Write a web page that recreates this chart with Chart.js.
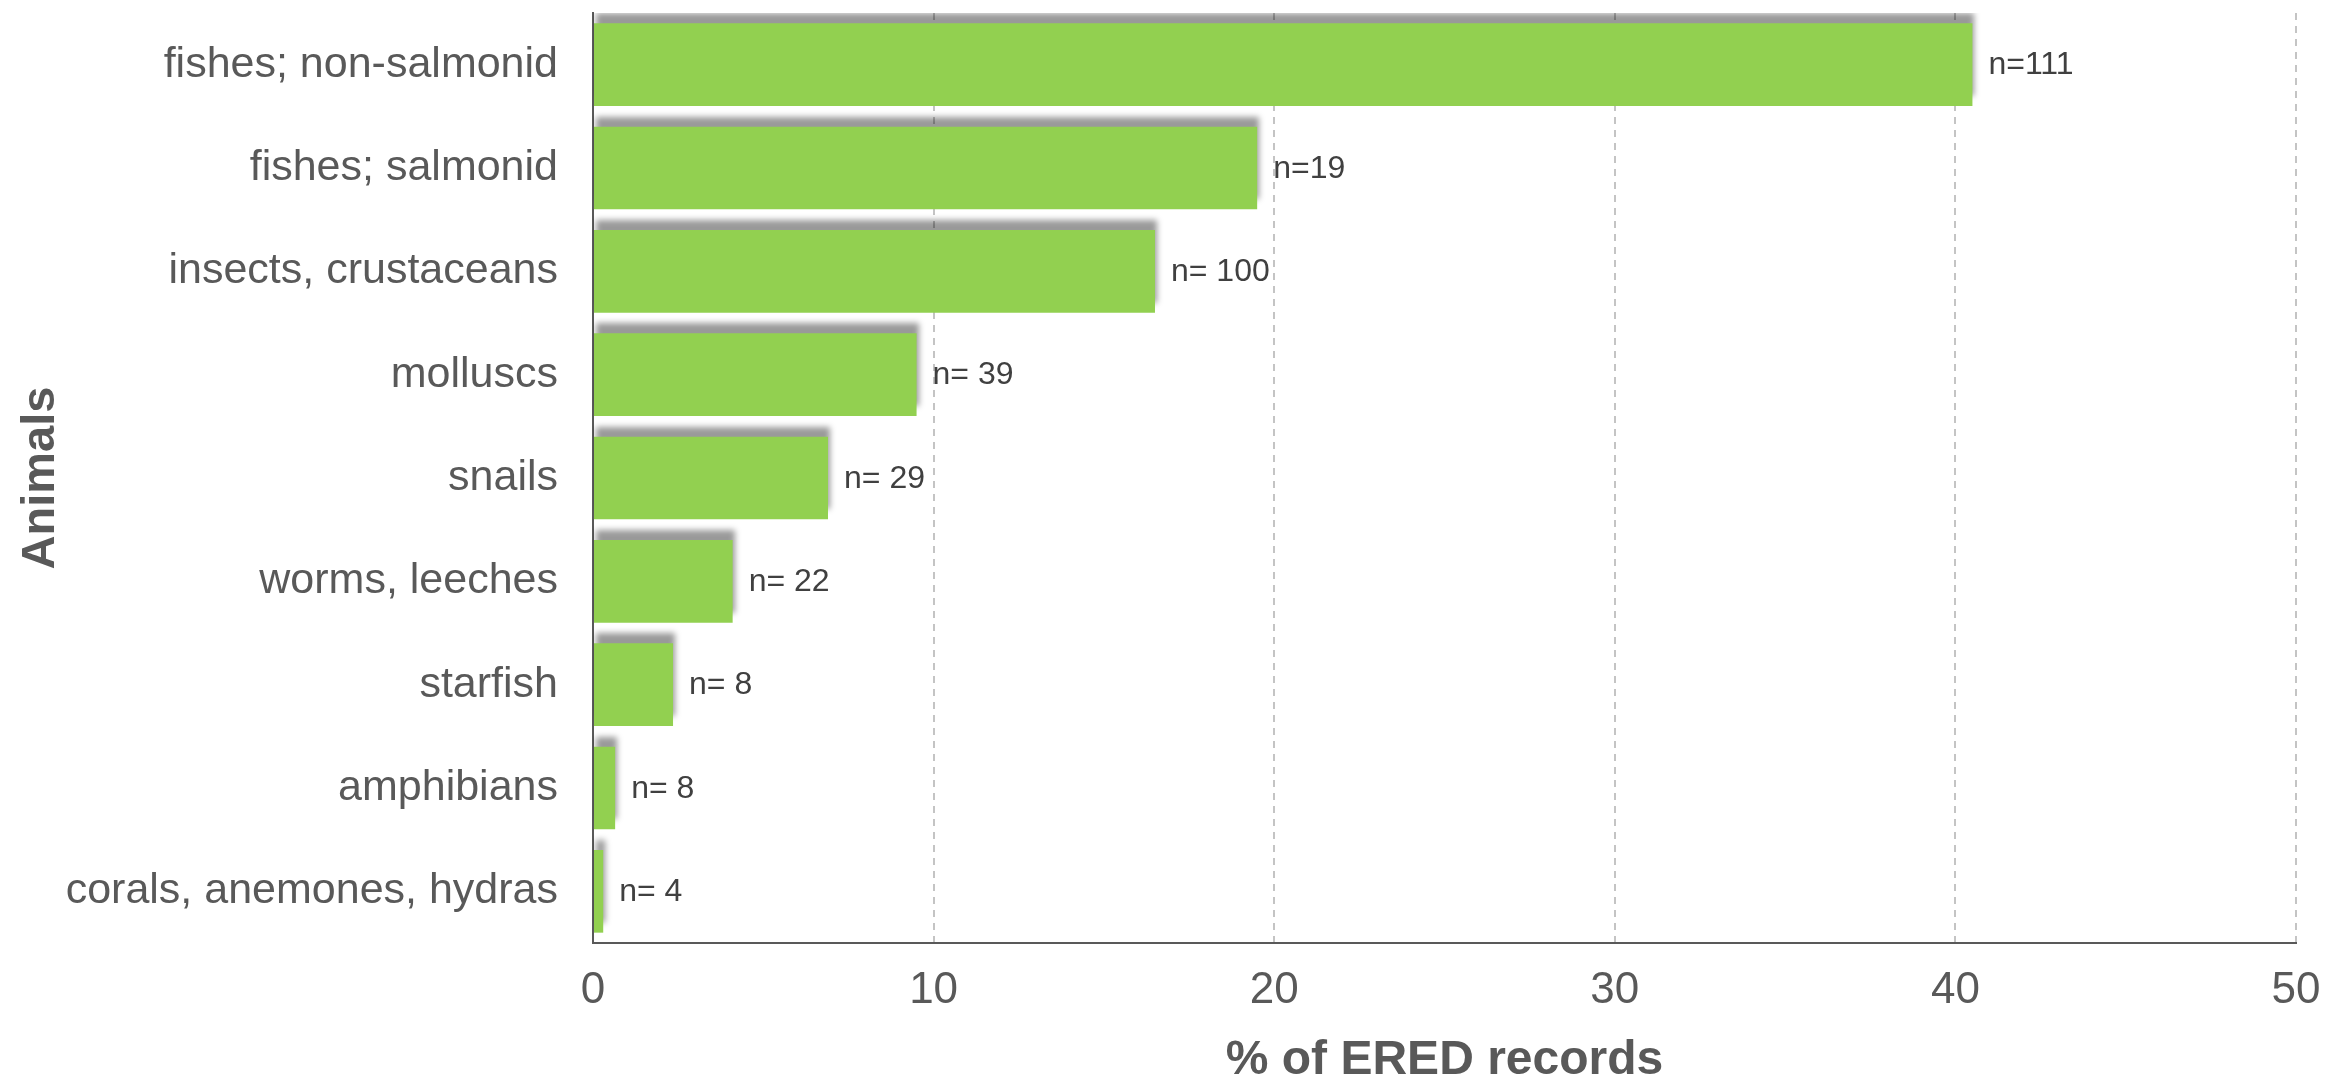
<!DOCTYPE html>
<html>
<head>
<meta charset="utf-8">
<title>Animals - % of ERED records</title>
<script src="https://cdn.jsdelivr.net/npm/chart.js@4/dist/chart.umd.min.js"></script>
<style>
    html, body { margin: 0; padding: 0; background: #ffffff; }
    #animalChart { display: block; }
</style>
</head>
<body>
<canvas id="animalChart" width="2326" height="1076"></canvas>
<script>
const categories = [
    'fishes; non-salmonid',
    'fishes; salmonid',
    'insects, crustaceans',
    'molluscs',
    'snails',
    'worms, leeches',
    'starfish',
    'amphibians',
    'corals, anemones, hydras'
];
// share of records per group (%)
const percentages = [40.5, 19.5, 16.5, 9.5, 6.9, 4.1, 2.35, 0.65, 0.3];
// sample counts printed next to each bar
const sampleLabels = ['n=111', 'n=19', 'n= 100', 'n= 39', 'n= 29', 'n= 22', 'n= 8', 'n= 8', 'n= 4'];
const xTicks = [0, 10, 20, 30, 40, 50];

const FONT = '"Liberation Sans", Arial, Helvetica, sans-serif';
const GREY = '#595959';

// keep the plot box where the layout padding puts it (no extra room for edge labels)
function noEdgePadding(scale) {
    scale.paddingTop = 0;
    scale.paddingBottom = 0;
    scale.paddingLeft = 0;
    scale.paddingRight = 0;
}

// soft shadow above each bar + the "n=" labels
const barDecor = {
    id: 'barDecor',
    beforeDatasetsDraw(chart) {
        const ctx = chart.ctx;
        ctx.save();
        ctx.shadowColor = 'rgba(0, 0, 0, 0.4)';
        ctx.shadowBlur = 6;
        ctx.shadowOffsetX = 2;
        ctx.shadowOffsetY = -10;
    },
    afterDatasetsDraw(chart) {
        const ctx = chart.ctx;
        ctx.restore();
        const meta = chart.getDatasetMeta(0);
        ctx.save();
        ctx.font = '32px ' + FONT;
        ctx.fillStyle = '#404040';
        ctx.textAlign = 'left';
        ctx.textBaseline = 'middle';
        meta.data.forEach((bar, i) => {
            ctx.fillText(sampleLabels[i], bar.x + 16, bar.y + 1);
        });
        ctx.restore();
    }
};

const ctx = document.getElementById('animalChart').getContext('2d');

new Chart(ctx, {
    type: 'bar',
    data: {
        labels: categories,
        datasets: [{
            data: percentages,
            backgroundColor: '#92D050',
            borderWidth: 0,
            barPercentage: 0.8,
            categoryPercentage: 1.0
        }]
    },
    options: {
        indexAxis: 'y',
        responsive: false,
        animation: false,
        devicePixelRatio: 1,
        layout: {
            padding: { top: 13, right: 30, bottom: 0, left: 0 }
        },
        plugins: {
            legend: { display: false },
            tooltip: { enabled: false }
        },
        scales: {
            x: {
                type: 'linear',
                min: 0,
                max: 50,
                afterBuildTicks: (scale) => {
                    scale.ticks = xTicks.map(v => ({ value: v }));
                },
                afterFit: (scale) => {
                    scale.height = 133;
                    noEdgePadding(scale);
                },
                grid: {
                    color: '#c4c4c4',
                    lineWidth: 2,
                    drawTicks: false
                },
                border: {
                    display: true,
                    color: GREY,
                    width: 2,
                    dash: [7, 6]
                },
                ticks: {
                    color: GREY,
                    padding: 21,
                    font: { family: FONT, size: 44 }
                },
                title: {
                    display: true,
                    text: '% of ERED records',
                    color: GREY,
                    padding: { top: 0, bottom: -9 },
                    font: { family: FONT, size: 48, weight: 'bold', lineHeight: 1 }
                }
            },
            y: {
                type: 'category',
                offset: true,
                afterFit: (scale) => {
                    scale.width = 593;
                    noEdgePadding(scale);
                },
                grid: {
                    display: false,
                    drawTicks: false
                },
                border: {
                    display: true,
                    color: GREY,
                    width: 2
                },
                ticks: {
                    color: GREY,
                    padding: 35,
                    font: { family: FONT, size: 43 }
                },
                title: {
                    display: true,
                    text: 'Animals',
                    color: GREY,
                    padding: { top: 13, bottom: 0 },
                    font: { family: FONT, size: 47, weight: 'bold' }
                }
            }
        }
    },
    plugins: [barDecor]
});
</script>
</body>
</html>
